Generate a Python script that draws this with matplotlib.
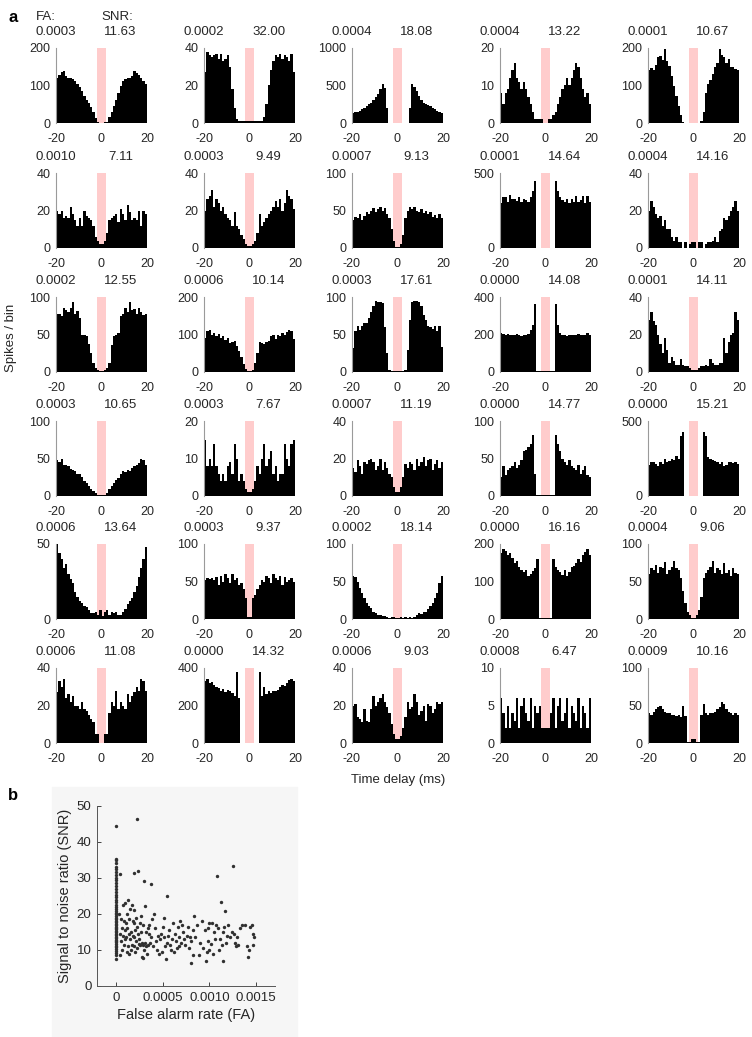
import numpy as np
import matplotlib
matplotlib.use('Agg')
import matplotlib.pyplot as plt
from matplotlib.patches import Rectangle

plt.rcParams['font.family'] = ['Liberation Sans', 'DejaVu Sans']
plt.rcParams['axes.unicode_minus'] = False

# panel a: autocorrelograms, 1 ms bins from -20 to 20 ms
fa_labels = ['0.0003', '0.0002', '0.0004', '0.0004', '0.0001',
             '0.0010', '0.0003', '0.0007', '0.0001', '0.0004',
             '0.0002', '0.0006', '0.0003', '0.0000', '0.0001',
             '0.0003', '0.0003', '0.0007', '0.0000', '0.0000',
             '0.0006', '0.0003', '0.0002', '0.0000', '0.0004',
             '0.0006', '0.0000', '0.0006', '0.0008', '0.0009']
snr_labels = ['11.63', '32.00', '18.08', '13.22', '10.67',
              '7.11', '9.49', '9.13', '14.64', '14.16',
              '12.55', '10.14', '17.61', '14.08', '14.11',
              '10.65', '7.67', '11.19', '14.77', '15.21',
              '13.64', '9.37', '18.14', '16.16', '9.06',
              '11.08', '14.32', '9.03', '6.47', '10.16']
ymax_vals = [200, 40, 1000, 20, 200,
             40, 40, 100, 500, 40,
             100, 200, 100, 400, 40,
             100, 20, 40, 100, 500,
             50, 100, 100, 200, 100,
             40, 400, 40, 10, 100]
ytick_vals = [[0, 100, 200], [0, 20, 40], [0, 500, 1000], [0, 10, 20], [0, 100, 200],
              [0, 20, 40], [0, 20, 40], [0, 50, 100], [0, 500], [0, 20, 40],
              [0, 50, 100], [0, 100, 200], [0, 50, 100], [0, 200, 400], [0, 20, 40],
              [0, 50, 100], [0, 10, 20], [0, 20, 40], [0, 50, 100], [0, 500],
              [0, 50], [0, 50, 100], [0, 50, 100], [0, 100, 200], [0, 50, 100],
              [0, 20, 40], [0, 200, 400], [0, 20, 40], [0, 5, 10], [0, 50, 100]]

bin_centers = np.arange(-19.5, 20, 1.0)

h01 = [120, 128, 135, 138, 124, 120, 120, 118, 112, 103, 95, 84, 72, 62, 52, 42, 28, 14, 3, 1,
       1, 2, 4, 16, 30, 46, 62, 80, 98, 112, 118, 120, 119, 124, 138, 134, 128, 120, 112, 105]
h02 = [27, 38, 36, 35, 36, 37, 34, 37, 33, 34, 36, 30, 18, 8, 2, 1, 1, 1, 1, 1,
       1, 1, 1, 1, 1, 1, 3, 10, 20, 28, 33, 36, 35, 37, 34, 36, 35, 33, 37, 27]
h03 = [130, 140, 150, 165, 180, 200, 225, 250, 270, 300, 340, 390, 450, 520, 460, 200, 3, 2, 2, 2,
       2, 2, 2, 3, 5, 200, 520, 480, 420, 360, 300, 270, 255, 245, 230, 200, 180, 165, 150, 135]
h04 = [8, 5, 8, 9, 12, 14, 16, 12, 11, 9, 11, 9, 7, 5, 3, 1, 1, 1, 1, 0,
       0, 1, 1, 2, 3, 5, 7, 9, 10, 12, 10, 12, 14, 16, 15, 12, 9, 7, 8, 5]
h05 = [140, 147, 142, 155, 176, 178, 169, 196, 164, 151, 124, 98, 71, 44, 22, 4, 1, 1, 1, 1,
       1, 1, 1, 5, 30, 80, 105, 115, 130, 150, 160, 196, 180, 175, 160, 170, 150, 148, 143, 140]
h06 = [20, 18, 20, 16, 17, 16, 22, 18, 15, 12, 16, 12, 20, 17, 16, 15, 12, 6, 4, 2,
       2, 4, 8, 15, 16, 17, 18, 14, 21, 18, 15, 23, 19, 15, 16, 15, 20, 12, 20, 18]
h07 = [20, 26, 28, 31, 22, 26, 24, 20, 22, 18, 16, 15, 12, 19, 12, 10, 7, 5, 2, 1,
       1, 2, 4, 8, 18, 12, 14, 16, 18, 20, 22, 25, 22, 26, 20, 24, 31, 28, 26, 21]
h08 = [38, 42, 40, 45, 38, 43, 48, 45, 50, 53, 48, 52, 55, 50, 53, 45, 40, 25, 10, 2,
       2, 5, 18, 40, 50, 55, 52, 55, 50, 48, 52, 47, 50, 45, 48, 42, 44, 40, 46, 40]
h09 = [300, 340, 340, 310, 355, 325, 330, 315, 340, 305, 330, 320, 310, 340, 380, 450, 3, 2, 2, 2,
       2, 2, 2, 3, 450, 380, 340, 320, 310, 330, 300, 330, 310, 345, 310, 320, 350, 300, 345, 310]
h10 = [20, 25, 22, 18, 16, 17, 12, 15, 10, 10, 6, 4, 6, 3, 3, 0, 3, 0, 2, 3,
       3, 0, 3, 3, 0, 2, 3, 3, 4, 6, 3, 9, 10, 16, 15, 17, 20, 22, 25, 20]
h11 = [78, 77, 75, 86, 83, 80, 85, 93, 78, 82, 72, 50, 50, 48, 37, 25, 12, 5, 3, 2,
       2, 3, 5, 12, 36, 48, 50, 52, 75, 78, 85, 80, 93, 83, 84, 78, 85, 80, 76, 78]
h12 = [90, 110, 112, 98, 105, 95, 102, 90, 97, 85, 92, 78, 80, 82, 70, 55, 40, 22, 8, 2,
       2, 6, 25, 50, 80, 78, 75, 80, 82, 95, 100, 88, 98, 95, 105, 100, 108, 112, 110, 88]
h13 = [32, 55, 62, 56, 62, 65, 65, 72, 80, 88, 95, 93, 93, 92, 60, 25, 3, 2, 2, 2,
       2, 2, 2, 3, 30, 70, 93, 95, 95, 93, 88, 76, 70, 62, 60, 58, 62, 55, 62, 33]
h14 = [210, 205, 200, 205, 200, 200, 195, 205, 195, 190, 200, 195, 205, 225, 250, 365, 5, 3, 3, 3,
       3, 3, 3, 5, 365, 250, 210, 195, 200, 190, 200, 195, 200, 195, 205, 200, 195, 200, 210, 195]
h15 = [28, 32, 27, 25, 20, 15, 10, 18, 12, 5, 8, 6, 4, 4, 7, 4, 3, 3, 2, 1,
       1, 1, 2, 3, 3, 4, 3, 7, 5, 4, 4, 5, 5, 18, 10, 16, 20, 21, 32, 28]
h16 = [48, 45, 50, 42, 42, 40, 36, 35, 33, 30, 30, 25, 20, 18, 13, 10, 7, 4, 2, 1,
       1, 2, 4, 10, 13, 17, 22, 24, 30, 33, 32, 35, 34, 38, 40, 42, 44, 50, 48, 42]
h17 = [15, 8, 10, 8, 14, 8, 6, 4, 6, 4, 8, 9, 6, 14, 10, 4, 6, 4, 2, 1,
       1, 2, 4, 8, 6, 10, 14, 8, 10, 12, 6, 8, 4, 6, 6, 14, 10, 8, 14, 15]
h18 = [15, 13, 19, 16, 12, 18, 17, 19, 20, 18, 14, 16, 20, 14, 18, 15, 12, 10, 5, 2,
       2, 5, 10, 17, 15, 18, 17, 14, 20, 16, 18, 21, 16, 19, 20, 14, 17, 19, 15, 18]
h19 = [25, 40, 28, 35, 38, 40, 45, 38, 42, 48, 60, 62, 65, 70, 82, 30, 2, 2, 2, 2,
       2, 2, 2, 2, 82, 70, 60, 50, 45, 42, 48, 40, 38, 35, 42, 30, 35, 40, 28, 25]
h20 = [210, 225, 230, 215, 200, 225, 215, 245, 230, 235, 250, 240, 265, 250, 400, 430, 3, 2, 2, 2,
       2, 2, 2, 2, 430, 400, 260, 250, 240, 235, 225, 215, 225, 200, 210, 225, 230, 220, 230, 215]
h21 = [50, 44, 40, 34, 37, 30, 27, 24, 18, 15, 12, 11, 9, 8, 6, 4, 4, 5, 3, 6,
       2, 5, 6, 3, 5, 4, 5, 3, 3, 5, 7, 10, 12, 14, 18, 22, 28, 34, 40, 48]
h22 = [52, 55, 53, 55, 52, 56, 45, 57, 50, 60, 55, 48, 60, 52, 55, 45, 48, 40, 28, 3,
       3, 28, 32, 40, 45, 52, 50, 58, 55, 48, 60, 55, 52, 58, 46, 56, 50, 52, 55, 50]
h23 = [58, 56, 50, 42, 35, 28, 22, 18, 15, 10, 8, 6, 5, 4, 4, 3, 2, 3, 3, 2,
       2, 3, 2, 3, 2, 3, 2, 3, 6, 8, 7, 9, 10, 14, 17, 22, 28, 35, 48, 58]
h24 = [175, 188, 182, 170, 175, 162, 150, 155, 140, 132, 125, 130, 115, 120, 128, 135, 160, 3, 3, 3,
       3, 3, 3, 160, 140, 132, 125, 118, 130, 115, 125, 138, 142, 150, 160, 152, 172, 178, 188, 170]
h25 = [60, 68, 65, 72, 62, 70, 68, 76, 60, 65, 70, 78, 68, 66, 55, 38, 22, 10, 5, 2,
       2, 5, 12, 30, 55, 62, 65, 70, 78, 62, 68, 66, 60, 75, 62, 65, 58, 68, 62, 60]
h26 = [27, 33, 30, 34, 24, 26, 22, 25, 20, 20, 18, 22, 18, 17, 15, 13, 11, 5, 5, 0,
       0, 5, 5, 16, 22, 20, 28, 18, 22, 20, 18, 26, 22, 25, 27, 30, 28, 34, 33, 28]
h27 = [330, 340, 322, 328, 310, 300, 292, 280, 288, 270, 285, 278, 265, 250, 380, 240, 2, 2, 2, 2,
       2, 2, 2, 2, 380, 250, 300, 260, 280, 265, 280, 275, 285, 300, 310, 305, 320, 335, 342, 330]
h28 = [20, 21, 14, 13, 11, 18, 12, 11, 18, 25, 20, 22, 24, 26, 22, 19, 16, 10, 5, 2,
       2, 4, 8, 14, 22, 18, 19, 26, 22, 15, 17, 20, 12, 21, 20, 16, 18, 22, 21, 22]
h29 = [6, 4, 2, 5, 2, 4, 3, 6, 2, 5, 6, 4, 3, 6, 2, 5, 4, 5, 2, 2,
       2, 2, 4, 6, 2, 5, 6, 3, 4, 6, 2, 5, 4, 3, 6, 2, 5, 4, 2, 6]
h30 = [40, 38, 42, 45, 48, 50, 45, 42, 40, 40, 38, 38, 36, 37, 35, 50, 36, 2, 2, 5,
       5, 2, 2, 38, 52, 40, 38, 40, 40, 42, 45, 48, 55, 52, 45, 42, 40, 38, 40, 38]

hists = [h01, h02, h03, h04, h05, h06, h07, h08, h09, h10,
         h11, h12, h13, h14, h15, h16, h17, h18, h19, h20,
         h21, h22, h23, h24, h25, h26, h27, h28, h29, h30]

# panel b: units with zero false alarms, then the rest (FA in units of 1e-4)
snr_zero_fa = [44.4, 35.4, 34.9, 34.2, 33.0, 32.4, 31.6, 30.9, 30.1, 29.4, 28.6, 27.7, 26.9,
               26.1, 25.4, 24.6, 23.9, 23.3, 22.6, 22.0, 21.5, 20.9, 20.4, 19.9, 19.5, 19.0,
               18.6, 18.1, 17.7, 17.3, 16.9, 16.5, 16.1, 15.7, 15.3, 14.9, 14.5, 14.1, 13.7,
               13.3, 12.9, 12.5, 12.1, 11.7, 11.2, 10.7, 10.2, 9.7, 9.2, 8.6, 7.6]
fa_e4 = [0.4, 0.5, 0.5, 0.6, 0.6, 0.7, 0.7, 0.8, 0.8, 0.9, 0.9, 1.0, 1.0, 1.0, 1.1, 1.1, 1.2,
         1.2, 1.2, 1.3, 1.3, 1.4, 1.4, 1.4, 1.5, 1.5, 1.6, 1.6, 1.7, 1.7, 1.8, 1.8, 1.9, 1.9,
         1.9, 2.0, 2.0, 2.1, 2.1, 2.2, 2.2, 2.25, 2.3, 2.3, 2.4, 2.4, 2.5, 2.5, 2.6, 2.6, 2.7,
         2.7, 2.8, 2.8, 2.9, 2.9, 2.9, 3.0, 3.0, 3.1, 3.1, 3.2, 3.2, 3.3, 3.4, 3.4, 3.5, 3.6,
         3.7, 3.75, 3.8, 3.9, 4.0, 4.1, 4.2, 4.3, 4.4, 4.5, 4.6, 4.7, 4.8, 4.9, 5.0, 5.1, 5.2,
         5.3, 5.4, 5.5, 5.5, 5.6, 5.7, 5.8, 5.9, 6.0, 6.1, 6.2, 6.3, 6.4, 6.5, 6.6, 6.7, 6.8,
         6.9, 7.0, 7.1, 7.2, 7.3, 7.4, 7.6, 7.7, 7.8, 7.9, 8.0, 8.0, 8.2, 8.3, 8.4, 8.5, 8.7,
         8.9, 9.0, 9.2, 9.3, 9.5, 9.6, 9.7, 9.8, 9.9, 10.0, 10.0, 10.2, 10.3, 10.4, 10.5, 10.6,
         10.7, 10.8, 10.9, 11.0, 11.1, 11.2, 11.3, 11.4, 11.5, 11.6, 11.7, 11.8, 11.9, 12.0,
         12.2, 12.4, 12.5, 12.6, 12.7, 12.8, 12.9, 13.1, 13.3, 13.5, 13.8, 14.0, 14.1, 14.2,
         14.3, 14.5, 14.6, 14.7, 14.8, 0.5]
snr_rest = [20.0, 14.5, 8.5, 18.5, 12.5, 16.0, 10.0, 22.5, 14.0, 18.0, 11.5, 23.0, 15.5, 13.0,
            17.5, 13.5, 20.0, 16.0, 9.5, 24.0, 11.0, 18.5, 14.5, 9.0, 21.5, 13.0, 15.0, 10.0,
            22.5, 11.5, 18.0, 14.0, 21.0, 13.5, 31.4, 17.5, 11.0, 15.5, 9.5, 19.0, 12.5, 46.5,
            16.5, 10.5, 14.5, 32.0, 13.0, 11.8, 17.5, 11.5, 19.5, 15.0, 12.0, 8.0, 17.0, 11.5,
            7.7, 29.3, 10.0, 22.2, 12.0, 15.0, 11.0, 9.0, 11.5, 16.0, 14.5, 17.0, 12.0, 28.4,
            13.5, 18.5, 11.0, 20.0, 16.0, 12.5, 10.0, 14.0, 9.0, 13.0, 14.5, 9.5, 16.5, 18.8,
            13.5, 11.0, 7.5, 25.1, 12.0, 14.0, 15.5, 11.5, 10.0, 13.0, 17.5, 9.5, 14.5, 12.5,
            10.5, 16.5, 13.5, 11.0, 18.0, 12.0, 17.0, 15.0, 13.0, 11.5, 14.0, 16.5, 10.5, 13.5,
            12.5, 6.5, 8.5, 15.5, 19.5, 13.5, 17.0, 8.5, 12.0, 18.0, 10.5, 15.5, 7.0, 9.5, 16.0,
            12.5, 17.5, 10.0, 11.8, 17.5, 9.0, 15.0, 13.0, 17.0, 30.6, 16.0, 10.0, 13.0, 23.2,
            11.5, 15.0, 7.0, 16.5, 20.7, 12.0, 14.0, 17.0, 13.5, 15.0, 33.2, 14.5, 12.0, 11.0,
            13.5, 11.5, 16.0, 17.0, 17.0, 11.0, 8.0, 10.0, 16.5, 17.0, 11.5, 14.5, 13.5, 31.2]

W, H = 752, 1037
fig = plt.figure(figsize=(W / 100, H / 100), dpi=100)

col_left = [56, 204, 352, 500, 648]
row_top = [48, 173, 297, 421, 544, 668]
aw, ah = 91, 75
txt = '#262626'

for i, counts in enumerate(hists):
    r, c = divmod(i, 5)
    x0, y0 = col_left[c], row_top[r]
    ax = fig.add_axes([x0 / W, 1 - (y0 + ah) / H, aw / W, ah / H])
    ax.axvspan(-2, 2, color='#ffcccc', lw=0, zorder=0)
    ax.bar(bin_centers, counts, width=1.0, color='black', lw=0, zorder=2)
    ax.set_xlim(-20, 20)
    ax.set_ylim(0, ymax_vals[i])
    ax.set_xticks([-20, 0, 20])
    ax.set_yticks(ytick_vals[i])
    for s in ['top', 'right', 'bottom']:
        ax.spines[s].set_visible(False)
    ax.spines['left'].set_color('#9a9a9a')
    ax.spines['left'].set_linewidth(0.8)
    ax.tick_params(length=0, labelsize=9, colors=txt)
    ax.tick_params(axis='x', pad=7)
    ax.tick_params(axis='y', pad=4)
    fig.text((x0 - 20) / W, 1 - (y0 - 16) / H, fa_labels[i], fontsize=9.5,
             color=txt, ha='left', va='center')
    fig.text((x0 + 0.71 * aw) / W, 1 - (y0 - 16) / H, snr_labels[i], fontsize=9.5,
             color=txt, ha='center', va='center')

fig.text(36 / W, 1 - 17 / H, 'FA:', fontsize=9.5, color=txt, ha='left', va='center')
fig.text(101 / W, 1 - 17 / H, 'SNR:', fontsize=9.5, color=txt, ha='left', va='center')
fig.text(13 / W, 1 - 17 / H, 'a', fontsize=12, fontweight='bold', ha='center', va='center')
fig.text(11 / W, 1 - 338 / H, 'Spikes / bin', fontsize=9.5, color=txt, rotation=90,
         ha='center', va='center')
fig.text(398 / W, 1 - 780 / H, 'Time delay (ms)', fontsize=9.5, color=txt,
         ha='center', va='center')

# panel b, on a light grey backdrop
backdrop = Rectangle((52 / W, 0), (297 - 52) / W, (1037 - 787) / H,
                     transform=fig.transFigure, color='#f6f6f6', zorder=-10)
fig.add_artist(backdrop)
fig.text(13 / W, 1 - 796 / H, 'b', fontsize=12, fontweight='bold', ha='center', va='center')
axb = fig.add_axes([97 / W, 1 - 986 / H, 178 / W, 180 / H])
axb.set_zorder(5)
axb.patch.set_alpha(0)
axb.scatter(np.zeros(len(snr_zero_fa)), snr_zero_fa, s=6, color='#303030', lw=0)
axb.scatter(np.array(fa_e4) * 1e-4, snr_rest, s=6, color='#303030', lw=0)
axb.set_xlim(-0.0002, 0.0017)
axb.set_ylim(0, 50)
axb.set_xticks([0, 0.0005, 0.0010, 0.0015])
axb.set_xticklabels(['0', '0.0005', '0.0010', '0.0015'])
axb.set_yticks([0, 10, 20, 30, 40, 50])
for s in ['top', 'right']:
    axb.spines[s].set_visible(False)
for s in ['left', 'bottom']:
    axb.spines[s].set_color('#555555')
    axb.spines[s].set_linewidth(0.7)
axb.tick_params(direction='in', length=3, width=0.6, labelsize=9.5, colors=txt, pad=4)
axb.set_xlabel('False alarm rate (FA)', fontsize=10.5, color=txt, labelpad=3)
axb.set_ylabel('Signal to noise ratio (SNR)', fontsize=10.5, color=txt, labelpad=3)

fig.savefig('out.png', dpi=100)
